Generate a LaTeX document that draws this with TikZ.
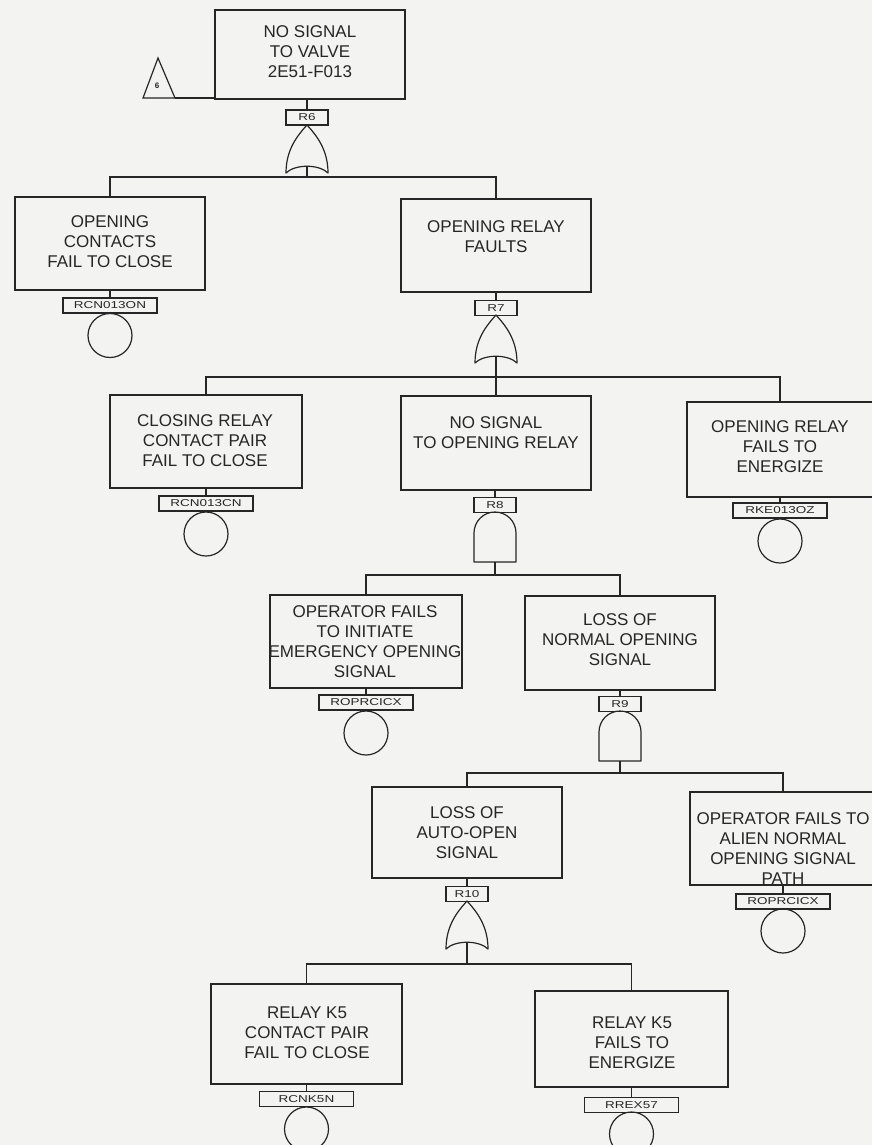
\documentclass[tikz,border=0pt]{standalone}
\usepackage{fontspec}
\setmainfont{Liberation Sans}
\newfontfamily\tagfont[FakeStretch=1.35]{Liberation Sans}

\definecolor{paper}{RGB}{243,243,241}
\definecolor{ink}{RGB}{38,38,38}

% OR gate: name, centre x, top y
\newcommand\fgOr[3]{%
  \draw[gate] (#2,#3) .. controls (#2-9,#3+10) and (#2-21,#3+24) .. (#2-21,#3+48)
    .. controls (#2-12,#3+39) and (#2+12,#3+39) .. (#2+21,#3+48)
    .. controls (#2+21,#3+24) and (#2+9,#3+10) .. (#2,#3) -- cycle;
  \coordinate (#1out) at (#2,#3+41.5);}
% AND gate: name, centre x, top y
\newcommand\fgAnd[3]{%
  \draw[gate] (#2-21,#3+50) -- (#2-21,#3+21)
    .. controls (#2-21,#3+9.4) and (#2-11.6,#3) .. (#2,#3)
    .. controls (#2+11.6,#3) and (#2+21,#3+9.4) .. (#2+21,#3+21)
    -- (#2+21,#3+50) -- cycle;
  \coordinate (#1out) at (#2,#3+50);}

\begin{document}
\begin{tikzpicture}[x=1pt,y=-1pt,line width=1.2pt,color=ink,
  box/.style={draw,minimum width=190,minimum height=93,inner sep=0},
  txt/.style={align=center,font=\fontsize{17}{20}\selectfont,inner sep=0},
  tag/.style={draw,minimum width=94,minimum height=15,inner sep=0,
    font=\tagfont\fontsize{10}{10}\selectfont},
  gtag/.style={tag,minimum width=42},
  ev/.style={draw,circle,minimum size=44,inner sep=0},
  gate/.style={draw,line join=round}]

\fill[paper] (0,0) rectangle (872,1145);
\useasboundingbox (0,0) rectangle (872,1145);
\clip (0,0) rectangle (872,1145);

% ---- top event and transfer triangle
\node[box,minimum height=89] (top) at (310,54.5) {};
\node[txt] (topt) at (310,52) {NO SIGNAL\\TO VALVE\\2E51-F013};
\path (143,98) coordinate (triL) (158,58) coordinate (triT) (175,98) coordinate (triR);
\draw (triL) -- (triT) -- (triR) -- cycle;
\node[font=\bfseries\fontsize{8}{8}\selectfont,inner sep=0] (tri6) at (157,86) {6};
\draw (triR) -- (triR -| top.west);

\node[gtag] (g6) at (307,117.5) {R6};
\draw (g6.north) -- (g6.north |- top.south);
\fgOr{o6}{307}{125}
\coordinate (b6) at (307,177);

% ---- level 2
\node[box] (A) at (110,243.5) {};
\node[txt] (At) at (110,242) {OPENING\\CONTACTS\\FAIL TO CLOSE};
\node[tag] (eA) at (110,305.5) {RCN013ON};
\node[ev] (cA) at (110,335.5) {};
\draw (eA.north) -- (eA.north |- A.south);

\node[box] (B) at (496,245.5) {};
\node[txt] (Bt) at (496,237) {OPENING RELAY\\FAULTS};
\node[gtag] (g7) at (496,308) {R7};
\draw (g7.north) -- (g7.north |- B.south);
\fgOr{o7}{496}{315}
\coordinate (b7) at (496,377);

\draw (o6out) -- (b6);
\draw (A.north) |- (b6) -| (B.north);

% ---- level 3
\node[box,minimum width=192] (C) at (206,441.5) {};
\node[txt] (Ct) at (205,441) {CLOSING RELAY\\CONTACT PAIR\\FAIL TO CLOSE};
\node[tag] (eC) at (206,503.5) {RCN013CN};
\node[ev] (cC) at (206,534) {};
\draw (eC.north) -- (eC.north |- C.south);

\node[box,minimum height=94] (D) at (496,443) {};
\node[txt] (Dt) at (496,433) {NO SIGNAL\\TO OPENING RELAY};
\node[gtag] (g8) at (495,505) {R8};
\draw (g8.north) -- (g8.north |- D.south);
\fgAnd{a8}{495}{512}
\coordinate (b8) at (495,575);

\node[box,minimum width=186,minimum height=95] (E) at (780,449.5) {};
\node[txt] (Et) at (780,447) {OPENING RELAY\\FAILS TO\\ENERGIZE};
\node[tag] (eE) at (780,510.5) {RKE013OZ};
\node[ev] (cE) at (780,541) {};
\draw (eE.north) -- (eE.north |- E.south);

\draw (o7out) -- (D.north);
\draw (C.north) |- (b7) -| (E.north);

% ---- level 4
\node[box,minimum width=192] (F) at (366,641.5) {};
\node[txt] (Ft) at (365,642) {OPERATOR FAILS\\TO INITIATE\\EMERGENCY OPENING\\SIGNAL};
\node[tag] (eF) at (366,702.5) {ROPRCICX};
\node[ev] (cF) at (366,733) {};
\draw (eF.north) -- (eF.north |- F.south);

\node[box,minimum height=94] (G) at (620,643) {};
\node[txt] (Gt) at (620,640) {LOSS OF\\NORMAL OPENING\\SIGNAL};
\node[gtag] (g9) at (620,704) {R9};
\draw (g9.north) -- (g9.north |- G.south);
\fgAnd{a9}{620}{711}
\coordinate (b9) at (620,773);

\draw (a8out) -- (b8);
\draw (F.north) |- (b8) -| (G.north);

% ---- level 5
\node[box,minimum height=91] (H) at (467,832.5) {};
\node[txt] (Ht) at (467,833) {LOSS OF\\AUTO-OPEN\\SIGNAL};
\node[gtag] (g10) at (467,894) {R10};
\draw (g10.north) -- (g10.north |- H.south);
\fgOr{o10}{467}{901}
\coordinate (b10) at (467,964);

\node[box,minimum width=186] (I) at (783,838.5) {};
\node[txt] (It) at (783,849) {OPERATOR FAILS TO\\ALIEN NORMAL\\OPENING SIGNAL\\PATH};
\node[tag] (eI) at (783,901.5) {ROPRCICX};
\node[ev] (cI) at (783,931) {};
\draw (eI.north) -- (eI.north |- I.south);

\draw (a9out) -- (b9);
\draw (H.north) |- (b9) -| (I.north);

% ---- level 6
\node[box,minimum width=191,minimum height=100] (J) at (306.5,1034) {};
\node[txt] (Jt) at (307,1033) {RELAY K5\\CONTACT PAIR\\FAIL TO CLOSE};
\node[tag] (eJ) at (306.5,1099) {RCNK5N};
\node[ev] (cJ) at (306.5,1129) {};
\draw (eJ.north) -- (eJ.north |- J.south);

\node[box,minimum width=193,minimum height=96] (K) at (631.5,1039) {};
\node[txt] (Kt) at (632,1043) {RELAY K5\\FAILS TO\\ENERGIZE};
\node[tag] (eK) at (631.5,1105) {RREX57};
\node[ev] (cK) at (631.5,1134) {};
\draw (eK.north) -- (eK.north |- K.south);

\draw (o10out) -- (b10);
\draw (J.north) |- (b10) -| (K.north);
\end{tikzpicture}
\end{document}
